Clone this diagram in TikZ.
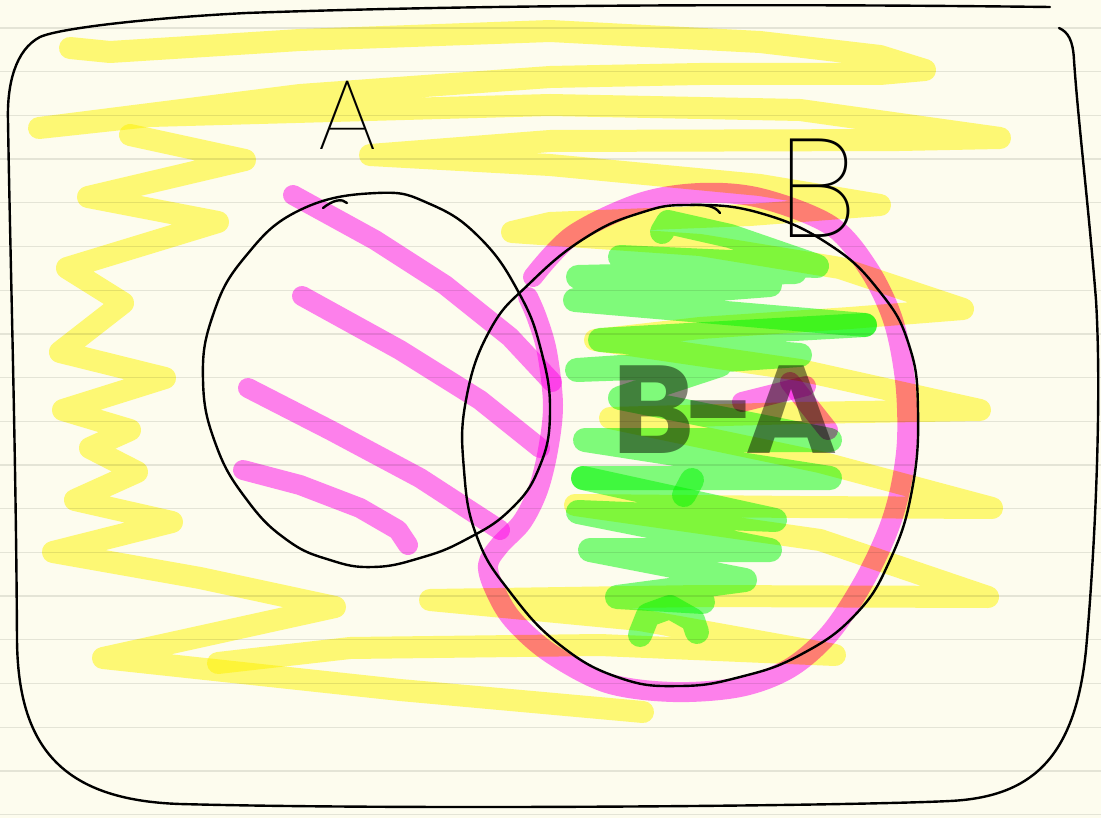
\documentclass[tikz,border=0pt]{standalone}
\usepackage{fontspec}
\IfFontExistsTF{Poppins Thin}{\newfontfamily\handfont{Poppins Thin}}{%
  \IfFontExistsTF{Poppins ExtraLight}{\newfontfamily\handfont{Poppins ExtraLight}}{%
    \IfFontExistsTF{Poppins Light}{\newfontfamily\handfont{Poppins Light}}{\newfontfamily\handfont{DejaVu Sans}}}}
\newfontfamily\markfont{Poppins}
\definecolor{paper}{RGB}{253,252,238}
\definecolor{rulec}{RGB}{228,228,214}
\definecolor{hy}{RGB}{255,251,125}
\definecolor{hp}{RGB}{255,130,252}
\definecolor{hg}{RGB}{129,253,131}
\definecolor{graypen}{RGB}{132,132,126}
\begin{document}
\begin{tikzpicture}[x=1pt,y=-1pt,
  hl/.style={line width=22pt,line cap=round,line join=round},
  hlp/.style={line width=20pt,line cap=round,line join=round,hp},
  hlg/.style={line width=24pt,line cap=round,line join=round,hg},
  pen/.style={line width=2.4pt,line cap=round,line join=round,black},
  lbl/.style={inner sep=0pt,anchor=base}]
\useasboundingbox (0,0) rectangle (1101,818);
\fill[paper] (0,0) rectangle (1101,818);
\foreach \k in {0,...,18} \draw[rulec,line width=1.3pt] (0,{28+43.7*\k}) -- (1101,{28+43.7*\k});

\begin{scope}[blend mode=multiply]
% yellow: big horizontal scribble
\draw[hl,hy] (70,48) -- (110,52) -- (300,40) -- (550,31) -- (760,42) -- (880,56) -- (925,70)
  -- (880,74) -- (700,74) -- (550,77) -- (300,95) -- (39,128)
  -- (150,116) -- (550,105) -- (800,110) -- (1000,138)
  -- (900,140) -- (550,141) -- (370,155)
  -- (550,165) -- (760,185) -- (880,205)
  -- (750,215) -- (550,223) -- (512,232)
  -- (700,245) -- (840,268) -- (963,309)
  -- (850,318) -- (700,328) -- (595,340)
  -- (800,370) -- (980,410)
  -- (800,413) -- (610,418)
  -- (820,462) -- (992,508)
  -- (800,507) -- (575,505)
  -- (820,540) -- (988,597)
  -- (700,596) -- (430,600)
  -- (640,620) -- (835,655)
  -- (600,645) -- (350,648) -- (218,663);
% yellow: left zigzag
\draw[hl,hy] (130,135) -- (245,160) -- (88,197) -- (218,222) -- (67,268) -- (123,303)
  -- (60,352) -- (165,378) -- (63,410) -- (130,430) -- (90,448) -- (137,472)
  -- (75,500) -- (172,522) -- (53,552) -- (200,578) -- (335,607) -- (103,658)
  -- (400,690) -- (643,712);

% pink hatching in A
\draw[hlp] (293,195) -- (375,240) -- (445,285) -- (510,337) -- (552,382);
\draw[hlp] (302,296) -- (400,350) -- (480,400) -- (540,448);
\draw[hlp] (248,388) -- (330,430) -- (420,478) -- (500,530);
\draw[hlp] (243,470) -- (300,485) -- (360,508) -- (398,530) -- (408,545);
% pink outline of B
\draw[hlp] plot[smooth,tension=0.55] coordinates {(533,277) (573,235) (640,203) (700,193) (760,198)
  (830,225) (868,268) (893,320) (905,380) (907,440) (900,490) (887,533) (863,583) (830,633)
  (790,668) (740,687) (673,692) (607,683) (550,653) (513,620) (495,590) (488,565) (500,545)
  (522,522) (538,490) (548,450) (553,405) (547,352) (537,318) (528,297)};

% green scribble in B - A
\draw[hlg] (662,232) -- (668,222) -- (730,236) -- (817,266) -- (620,257) -- (795,272)
  -- (578,277) -- (770,285) -- (575,300) -- (865,325);
\draw[hlg] (865,325) -- (600,340) -- (800,355) -- (577,370) -- (720,365) -- (620,398)
  -- (830,440) -- (585,440) -- (830,478) -- (583,478);
\draw[hlg] (583,478) -- (775,520) -- (578,512) -- (770,550) -- (590,550) -- (745,580)
  -- (617,597) -- (703,602);
\draw[hlg] (640,635) -- (648,615) -- (670,607) -- (693,620) -- (697,632);
\draw[hlg] (684,495) -- (692,480);

% label B - A
\node[lbl,anchor=base west,text=graypen] (bma) at (612,453)
  {\markfont\bfseries\fontsize{125}{130}\selectfont B\kern-10pt-\kern-12pt A};
\draw[hlp] (790,382) -- (828,430);
\draw[hlp] (742,402) -- (806,386);
\end{scope}

% outer frame
\draw[pen] (1050,7) .. controls (800,4) and (500,4) .. (246,13)
  .. controls (150,18) and (60,28) .. (40,37)
  .. controls (15,50) and (7,85) .. (8,120)
  .. controls (10,250) and (16,450) .. (17,640)
  .. controls (18,745) and (60,800) .. (180,804)
  .. controls (400,810) and (850,806) .. (950,801)
  .. controls (1030,797) and (1075,760) .. (1086,650)
  .. controls (1095,550) and (1102,400) .. (1096,300)
  .. controls (1088,200) and (1078,120) .. (1074,60)
  .. controls (1073,40) and (1068,32) .. (1059,28);

% circle A
\draw[pen] plot[smooth cycle,tension=0.75] coordinates {(377,193) (430,204) (480,238) (519,293)
  (541,350) (550,413) (539,468) (510,510) (465,540) (420,558) (373,567) (330,560) (287,540)
  (247,500) (216,445) (203,380) (213,315) (245,257) (300,210)};
\draw[pen] (323,208) .. controls (333,200) and (342,198) .. (347,203);

% circle B
\draw[pen] plot[smooth cycle,tension=0.75] coordinates {(690,205) (760,213) (830,245)
  (880,292) (909,345) (918,410) (912,490) (890,560) (855,615) (800,655) (740,677)
  (680,686) (620,678) (560,645) (510,592) (477,537) (464,470) (466,400)
  (490,330) (530,283) (585,238) (640,213)};
\draw[pen] (690,205) .. controls (705,204) and (715,206) .. (720,213);

% labels A and B
\node[lbl] (labA) at (348,150) {\handfont\fontsize{100}{110}\selectfont A};
\node[lbl] (labB) at (818,238) {\handfont\fontsize{140}{150}\selectfont B};
\end{tikzpicture}
\end{document}
